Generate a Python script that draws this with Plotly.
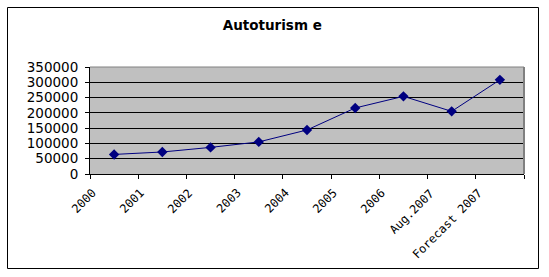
import plotly.graph_objects as go

categories = ["2000", "2001", "2002", "2003", "2004", "2005", "2006", "Aug.2007", "Forecast 2007"]
values = [64000, 72000, 87000, 105000, 144000, 216000, 254000, 205000, 308000]
title_text = "Autoturism e"

W, H = 549, 277
L, R, T, B = 90, 524, 67, 174  # plot area in pixels
pw, ph = R - L, B - T

def px(x):
    return (x - L) / pw

def py(y):
    return (B - y) / ph

fig = go.Figure()
fig.add_trace(go.Scatter(
    x=categories, y=values, mode="lines+markers",
    line=dict(color="#000080", width=1),
    marker=dict(symbol="diamond", size=8, color="#000080"),
    cliponaxis=False,
))

annotations = [
    dict(x=i, y=0, xref="x", yref="paper", text=c, textangle=-45, showarrow=False,
         xanchor="right", yanchor="top", xshift=-14, yshift=-11, borderpad=0,
         font=dict(family="DejaVu Sans Mono", size=11.8, color="black"))
    for i, c in enumerate(categories)
]

fig.update_layout(
    width=W, height=H,
    margin=dict(l=L, r=W - R, t=T, b=H - B),
    paper_bgcolor="white",
    plot_bgcolor="#C0C0C0",
    showlegend=False,
    font=dict(family="DejaVu Sans", size=12, color="black"),
    title=dict(text=title_text, x=0.496, xanchor="center", y=1 - 25.5 / H, yanchor="middle",
               font=dict(family="DejaVu Sans", size=13.5, color="black", weight="bold")),
    xaxis=dict(
        type="category", tickson="boundaries", ticks="outside", ticklen=4,
        tickcolor="black", showline=True, linecolor="black", linewidth=1, showgrid=False,
        showticklabels=False, range=[-0.5, len(categories) - 0.5], zeroline=False,
    ),
    yaxis=dict(
        range=[0, 350000], dtick=50000, ticks="outside", ticklen=4, tickcolor="black",
        showline=True, linecolor="black", linewidth=1, showgrid=True, gridcolor="black",
        gridwidth=1, tickfont=dict(family="DejaVu Sans", size=13.5), zeroline=False,
        tickformat="d", ticklabelstandoff=4,
    ),
    annotations=annotations,
    shapes=[
        dict(type="rect", xref="paper", yref="paper", x0=px(7.5), x1=px(538.5), y0=py(268.5), y1=py(7.5),
             line=dict(color="black", width=1), layer="below"),
        dict(type="line", xref="paper", yref="paper", x0=1, x1=1, y0=0, y1=1,
             line=dict(color="#808080", width=2)),
        dict(type="line", xref="paper", yref="paper", x0=0, x1=1, y0=1, y1=1,
             line=dict(color="#808080", width=1)),
    ],
)

fig.write_html("out.html")
